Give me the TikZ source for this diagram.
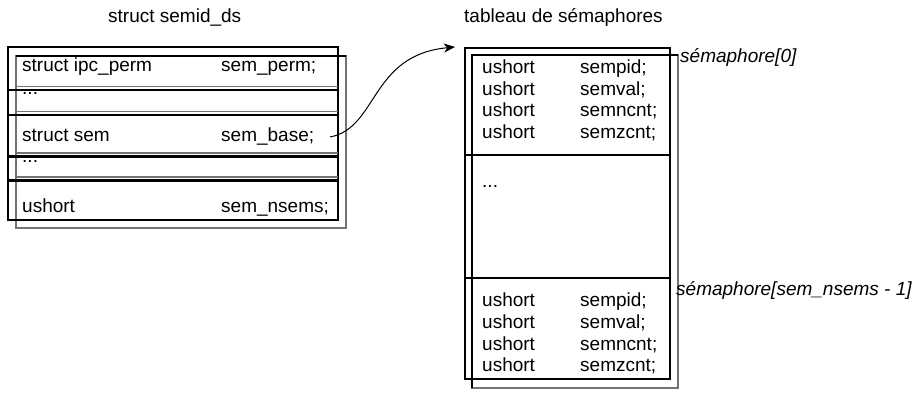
\documentclass[tikz,border=0pt]{standalone}
\usepackage{fontspec}
\setmainfont{Liberation Sans}
\usetikzlibrary{arrows.meta}
\begin{document}
\begin{tikzpicture}[x=1pt,y=-1pt,
  thickline/.style={line width=2.6pt,draw=black},
  greyline/.style={line width=1.4pt,draw=black!55},
  txt/.style={anchor=base west,inner sep=0pt,font=\fontsize{19}{22}\selectfont},
  itxt/.style={txt,font=\fontsize{19}{22}\selectfont\itshape},
  link/.style={line width=1pt,-{Stealth[length=11pt,width=9pt,inset=3pt]}}]
\useasboundingbox[fill=white] (0,0) rectangle (924,393);
% titles
\node[txt] (t1) at (108,23) {struct semid\_ds};
\node[txt] (t2) at (464,23) {tableau de sémaphores};
% left structure
\draw[greyline] (16,56) rectangle (346,228);
\draw[thickline] (16,56) -- (346,56);
\draw[thickline] (8,47) rectangle (338,220);
\foreach \yy in {86.5,111.5,153,177}
  \draw[greyline] (16,\yy) -- (338,\yy);
\foreach \yy in {90,115,156.5,180.5}
  \draw[thickline] (8,\yy) -- (338,\yy);
\node[txt] (a1) at (22,72) {struct ipc\_perm};
\node[txt] (b1) at (221,72) {sem\_perm;};
\node[txt] (a2) at (22,95) {...};
\node[txt] (a3) at (22,142) {struct sem};
\node[txt] (b3) at (221,142) {sem\_base;};
\node[txt] (a4) at (22,163) {...};
\node[txt] (a5) at (22,212) {ushort};
\node[txt] (b5) at (221,212) {sem\_nsems;};
% right structure
\draw[greyline] (472,55) rectangle (678,388);
\draw[thickline] (472,388) -- (472,55) -- (678,55);
\draw[thickline] (465,48) rectangle (670,379);
\draw[thickline] (465,155) -- (670,155);
\draw[thickline] (465,278) -- (670,278);
\foreach \yy/\nm [count=\i] in {73.5/sempid;,95.5/semval;,117/semncnt;,138.5/semzcnt;}{
  \node[txt] (u\i) at (482,\yy) {ushort};
  \node[txt] (v\i) at (580,\yy) {\nm};
}
\node[txt] (dots) at (482,187) {...};
\foreach \yy/\nm [count=\i] in {306.5/sempid;,328.5/semval;,350/semncnt;,371.5/semzcnt;}{
  \node[txt] (w\i) at (482,\yy) {ushort};
  \node[txt] (z\i) at (580,\yy) {\nm};
}
\node[itxt] (s0) at (680,63) {sémaphore[0]};
\node[itxt] (sn) at (676,295) {sémaphore[sem\_nsems - 1]};
% arrow
\coordinate (from) at (330,137);
\coordinate (to) at (455,47);
\draw[link] (from) .. controls (378,128) and (370,55) .. (to);
\end{tikzpicture}
\end{document}
